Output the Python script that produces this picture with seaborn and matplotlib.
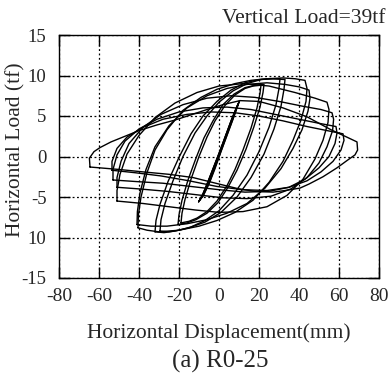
import matplotlib
matplotlib.use("Agg")
import matplotlib.pyplot as plt
import matplotlib.ticker as mticker
import numpy as np
import pandas as pd
import seaborn as sns

# ---------------- data ----------------
x_ticks = [-80, -60, -40, -20, 0, 20, 40, 60, 80]
x_tick_labels = ["-80", "-60", "-40", "-20", "0", "20", "40", "60", "80"]
y_ticks = [-15, -10, -5, 0, 5, 10, 15]
y_tick_labels = ["-15", "10", "-5", "0", "5", "10", "15"]

# small cycles (+-10 mm)
c1_x = [-10, -8, -5, -2, 1, 4, 7, 9.5, 8.5, 6, 3, 0, -3, -6, -8.5, -10]
c1_y = [-5.5, -4.9, -3.4, -1.5, 0.6, 2.6, 4.6, 6.4, 5.8, 4.3, 2.3, 0.3, -1.6, -3.5, -4.9, -5.5]
c2_x = [-9.6, -7.5, -4.5, -1.5, 1.5, 4.5, 7.5, 10.3, 9.2, 6.5, 3.5, 0.5, -2.5, -5.5, -8, -9.6]
c2_y = [-5.3, -4.6, -3.0, -1.0, 1.0, 3.0, 5.0, 6.9, 6.3, 4.7, 2.7, 0.7, -1.2, -3.1, -4.6, -5.3]
c3_x = [-10.2, -8.2, -5.2, -2.2, 0.8, 3.8, 6.8, 9.8, 8.8, 6.2, 3.2, 0.2, -2.8, -5.8, -8.4, -10.2]
c3_y = [-5.6, -4.9, -3.3, -1.3, 0.7, 2.7, 4.7, 6.6, 6.1, 4.5, 2.5, 0.5, -1.4, -3.3, -4.9, -5.6]

# +-20 mm cycles
c4_x = [-19, -18.5, -17, -14, -10, -6, -2, 3, 8, 13, 17, 21,
        20.5, 19, 16, 12, 8, 4, -1, -6, -11, -15, -19]
c4_y = [-8.2, -7.0, -5.3, -2.8, 0.0, 2.4, 4.4, 6.3, 7.6, 8.4, 8.7, 8.8,
        7.8, 6.0, 3.5, 0.8, -1.6, -3.6, -5.5, -6.8, -7.6, -8.0, -8.2]
c5_x = [-20.5, -20, -18.5, -15.5, -11.5, -7.5, -3, 2, 7.5, 13, 18, 22.5,
        22, 20.5, 17.5, 13.5, 9, 4.5, -0.5, -6, -11.5, -16, -20.5]
c5_y = [-8.4, -7.2, -5.4, -2.9, -0.2, 2.3, 4.4, 6.4, 7.7, 8.5, 8.8, 8.9,
        7.9, 6.1, 3.7, 0.9, -1.7, -3.8, -5.7, -7.0, -7.8, -8.2, -8.4]

# +-30 mm cycles
c6_x = [-29.5, -29, -27, -23, -18, -12, -6, 0, 7, 14, 21, 26, 30.5,
        30, 28.5, 25, 20, 14, 7, 0, -7, -14, -20, -25, -29.5]
c6_y = [-9.2, -7.8, -5.8, -3.0, 0.0, 2.9, 5.0, 6.7, 8.1, 9.0, 9.5, 9.6, 9.6,
        8.4, 6.4, 3.6, 0.6, -2.3, -4.8, -6.7, -7.9, -8.7, -9.1, -9.3, -9.2]
c7_x = [-32, -31.5, -29.5, -25.5, -20, -14, -8, -1, 6, 13, 20, 27, 33,
        32.5, 31, 27.5, 22.5, 16, 9, 1, -7, -15, -22, -27.5, -32]
c7_y = [-9.3, -7.9, -5.9, -3.1, -0.1, 2.8, 5.0, 6.8, 8.2, 9.1, 9.5, 9.6, 9.5,
        8.3, 6.2, 3.4, 0.3, -2.6, -5.0, -6.9, -8.1, -8.8, -9.2, -9.4, -9.3]

# +-42 mm cycles
c8_x = [-40.5, -40.3, -39, -36, -32, -26, -18, -9, -1, 8, 16, 24, 32, 38, 43,
        44, 43.5, 41, 37, 32, 25, 17, 8, -1, -10, -20, -30, -36, -40.5]
c8_y = [-8.8, -7.2, -5.0, -2.0, 0.8, 3.3, 5.7, 7.3, 8.3, 9.0, 9.4, 9.6, 9.7, 9.6, 9.4,
        8.4, 6.8, 4.5, 2.0, -0.6, -3.2, -5.4, -6.9, -7.9, -8.6, -9.1, -9.3, -9.1, -8.8]
c9_x = [-41, -40.8, -39.5, -36.5, -32, -25, -16, -6, 4, 14, 24, 33, 40, 45,
        45.5, 44.5, 41.5, 37, 31, 23, 14, 4, -6, -16, -26, -34, -41]
c9_y = [-8.4, -6.8, -4.5, -1.6, 1.2, 3.8, 6.0, 7.5, 8.4, 8.9, 9.1, 8.9, 8.6, 8.2,
        7.2, 5.6, 3.3, 1.0, -1.5, -3.9, -5.8, -7.0, -7.8, -8.3, -8.6, -8.6, -8.4]

# degraded large cycles
c10_x = [-51, -51, -49.5, -46, -40, -32, -22, -11, 0, 12, 25, 38, 48, 54,
         55, 54.5, 52, 48, 42, 34, 24, 12, 0, -12, -25, -38, -51]
c10_y = [-5.5, -4.2, -2.2, 0.3, 2.6, 4.8, 6.6, 7.9, 8.7, 9.0, 8.7, 7.9, 7.2, 6.7,
         5.8, 4.2, 2.0, -0.3, -2.8, -4.8, -6.2, -6.8, -6.9, -6.6, -6.2, -5.8, -5.5]
c11_x = [-51, -51, -49, -45, -38, -29, -18, -6, 6, 18, 30, 42, 51, 56.5,
         57.3, 56.8, 54, 50, 44, 36, 26, 14, 2, -12, -26, -40, -51]
c11_y = [-3.8, -2.6, -0.6, 1.6, 3.6, 5.2, 6.4, 7.2, 7.5, 7.3, 6.8, 6.2, 5.8, 5.4,
         4.6, 3.2, 1.2, -0.8, -2.6, -4.0, -4.9, -5.2, -5.1, -4.7, -4.3, -4.0, -3.8]
c12_x = [-53, -53, -51, -47, -40, -31, -20, -8, 4, 16, 28, 40, 50, 58.5,
         59, 58, 55, 50, 43, 35, 25, 13, 0, -14, -28, -41, -53]
c12_y = [-2.9, -1.6, 0.2, 1.9, 3.4, 4.6, 5.5, 6.0, 6.1, 5.8, 5.2, 4.6, 4.1, 3.7,
         2.9, 1.6, 0.0, -1.4, -2.8, -3.8, -4.3, -4.4, -4.1, -3.7, -3.3, -3.1, -2.9]
c13_x = [-53.5, -53.5, -51, -46, -38, -28, -16, -4, 8, 20, 32, 44, 54, 62,
         62.5, 61, 57, 51, 44, 35, 24, 12, -1, -15, -29, -42, -53.5]
c13_y = [-1.7, -0.6, 1.0, 2.4, 3.6, 4.6, 5.2, 5.5, 5.4, 5.0, 4.4, 3.7, 3.2, 2.8,
         2.0, 0.8, -0.6, -1.9, -3.0, -3.8, -4.2, -4.1, -3.7, -3.0, -2.4, -2.0, -1.7]
c14_x = [-64.5, -64.8, -62.5, -59.5, -54, -48, -40, -31, -22, -14.5, -6, 2, 10.5,
         20, 32, 44, 56, 63, 69,
         69.3, 68, 64, 59, 52, 45, 40.5, 33, 27, 18, 10, 0, -13, -25, -38, -50, -64.5]
c14_y = [-1.3, -0.2, 0.6, 1.1, 1.8, 2.4, 3.2, 3.9, 4.5, 5.1, 5.8, 6.4, 6.9,
         6.8, 6.0, 4.9, 3.3, 2.5, 1.8,
         0.8, 0.2, -0.5, -1.4, -2.5, -3.4, -3.9, -4.2, -4.4, -4.3, -4.0, -3.4, -2.6, -2.2, -1.9, -1.6, -1.3]

cycles_x = [c1_x, c2_x, c3_x, c4_x, c5_x, c6_x, c7_x, c8_x, c9_x,
            c10_x, c11_x, c12_x, c13_x, c14_x]
cycles_y = [c1_y, c2_y, c3_y, c4_y, c5_y, c6_y, c7_y, c8_y, c9_y,
            c10_y, c11_y, c12_y, c13_y, c14_y]

rows = []
for k, (xs, ys) in enumerate(zip(cycles_x, cycles_y)):
    for i, (xv, yv) in enumerate(zip(xs, ys)):
        rows.append({"cycle": k, "order": i, "disp": xv, "load": yv})
df = pd.DataFrame(rows)

# ---------------- style ----------------
sns.set_style("white")
plt.rcParams["font.family"] = ["Liberation Serif", "DejaVu Serif"]

fig = plt.figure(figsize=(3.91, 3.78), dpi=100)
W, H = 391, 378
ax = fig.add_axes([59 / W, 1 - 278 / H, 320 / W, 243 / H])

sns.lineplot(data=df, x="disp", y="load", units="cycle", estimator=None,
             sort=False, color="black", linewidth=1.0, ax=ax, legend=False)

ax.set_xlim(-80, 80)
ax.set_ylim(-15, 15)
ax.xaxis.set_major_locator(mticker.FixedLocator(x_ticks))
ax.xaxis.set_major_formatter(mticker.FixedFormatter(x_tick_labels))
ax.yaxis.set_major_locator(mticker.FixedLocator(y_ticks))
ax.yaxis.set_major_formatter(mticker.FixedFormatter(y_tick_labels))

ax.grid(True, color="black", linestyle=(0, (1.5, 2.0)), linewidth=0.9)
ax.set_axisbelow(True)
for s in ax.spines.values():
    s.set_color("black")
    s.set_linewidth(1.0)
    s.set_visible(True)

ax.tick_params(axis="both", direction="in", length=8, width=1.0, color="black",
               top=True, right=True, bottom=True, left=True)
ax.tick_params(axis="x", labelsize=14, pad=7)
ax.tick_params(axis="y", labelsize=13.5, pad=9)

ax.set_xlabel("Horizontal Displacement(mm)", fontsize=15.5)
ax.xaxis.set_label_coords(0.5, -0.185)
ax.set_ylabel("Horizontal Load (tf)", fontsize=15.5)
ax.yaxis.set_label_coords(-0.105, 0.53)

fig.text(385 / W, 1 - 23 / H, "Vertical Load=39tf", ha="right", va="baseline",
         fontsize=15.5)
fig.text(220 / W, 1 - 361 / H, "(a) R0-25", ha="center", va="center",
         fontsize=18)

fig.savefig("out.png", dpi=100)
